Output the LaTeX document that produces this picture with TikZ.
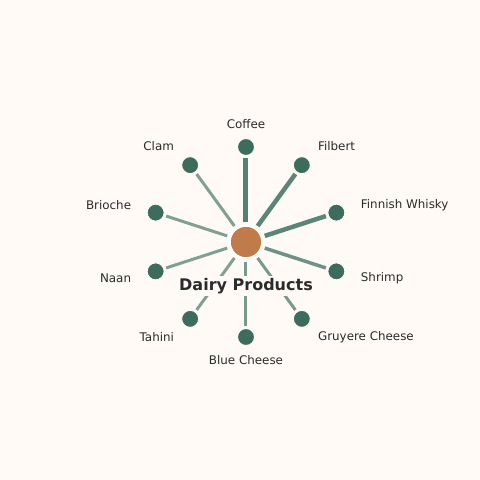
\documentclass[tikz,border=0pt]{standalone}
\usepackage{fontspec}
\setmainfont{DejaVu Sans}
\definecolor{bgcream}{HTML}{FFFAF6}
\definecolor{hubcol}{HTML}{C17A4A}
\definecolor{leafcol}{HTML}{3D6B5C}
\definecolor{edgecol}{HTML}{4A7A6A}
\definecolor{txtcol}{HTML}{2B2B2B}
\begin{document}
\begin{tikzpicture}[x=1pt, y=1pt,
  hub/.style={circle, fill=hubcol, draw=white, line width=1.5pt, minimum size=32pt, inner sep=0pt},
  leaf/.style={circle, fill=leafcol, draw=bgcream, line width=1pt, minimum size=17pt, inner sep=0pt},
  spoke/.style={draw=edgecol, shorten <=3pt, shorten >=2pt},
  lbl/.style={text=txtcol, font=\fontsize{11.9}{14}\selectfont, inner xsep=2.5pt, inner ysep=0pt}]
\fill[bgcream] (-246,-238) rectangle (234,242);
\useasboundingbox (-246,-238) rectangle (234,242);
\node[hub] (dairy) at (0,0){};
\node[leaf] (coffee) at (90:95){};
\node[leaf] (filbert) at (54:95){};
\node[leaf] (whisky) at (18:95){};
\node[leaf] (shrimp) at (-18:95){};
\node[leaf] (gruyere) at (-54:95){};
\node[leaf] (blue) at (-90:95){};
\node[leaf] (tahini) at (-126:95){};
\node[leaf] (naan) at (-162:95){};
\node[leaf] (brioche) at (162:95){};
\node[leaf] (clam) at (126:95){};
\draw[spoke, line width=5pt, opacity=.95](dairy) -- (coffee);
\draw[spoke, line width=4.5pt, opacity=.9](dairy) -- (filbert);
\draw[spoke, line width=4.5pt, opacity=.9](dairy) -- (whisky);
\draw[spoke, line width=3.5pt, opacity=.8](dairy) -- (shrimp);
\draw[spoke, line width=3pt, opacity=.75](dairy) -- (gruyere);
\draw[spoke, line width=3pt, opacity=.75](dairy) -- (blue);
\draw[spoke, line width=3pt, opacity=.7](dairy) -- (tahini);
\draw[spoke, line width=3pt, opacity=.7](dairy) -- (naan);
\draw[spoke, line width=3pt, opacity=.7](dairy) -- (brioche);
\draw[spoke, line width=3pt, opacity=.7](dairy) -- (clam);
\node[lbl] (lcoffee) at (90:118){Coffee};
\node[lbl, anchor=west] (lfilbert) at (54:118){Filbert};
\node[lbl, anchor=west] (lwhisky) at (18:118){Finnish Whisky};
\node[lbl, anchor=west] (lshrimp) at (-18:118){Shrimp};
\node[lbl, anchor=west] (lgruyere) at (-54:118){Gruyere Cheese};
\node[lbl] (lblue) at (-90:118){Blue Cheese};
\node[lbl, anchor=east] (ltahini) at (-126:118){Tahini};
\node[lbl, anchor=east] (lnaan) at (-162:118){Naan};
\node[lbl, anchor=east] (lbrioche) at (162:118){Brioche};
\node[lbl, anchor=east] (lclam) at (126:118){Clam};
\node[fill=bgcream, text=txtcol, inner sep=2pt, font=\bfseries\fontsize{16}{19}\selectfont] (ltitle) at (0,-44){Dairy Products};
\end{tikzpicture}
\end{document}
